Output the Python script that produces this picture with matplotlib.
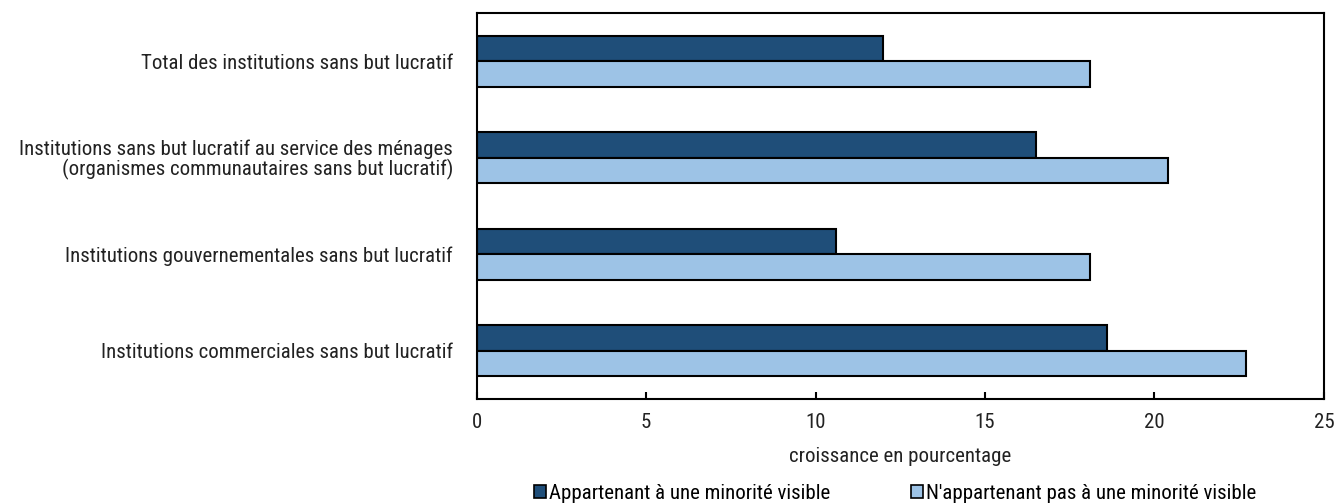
import numpy as np
import matplotlib.pyplot as plt
from matplotlib.patches import Patch

categories = [
    "Total des institutions sans but lucratif",
    "Institutions sans but lucratif au service des ménages\n(organismes communautaires sans but lucratif)",
    "Institutions gouvernementales sans but lucratif",
    "Institutions commerciales sans but lucratif",
]
minorite = [12.0, 16.5, 10.6, 18.6]
non_minorite = [18.1, 20.4, 18.1, 22.7]
series_labels = ["Appartenant à une minorité visible",
                 "N'appartenant pas à une minorité visible"]
dark = '#1F4E79'
light = '#9DC3E6'

plt.rcParams['font.family'] = ['Roboto Condensed', 'DejaVu Sans']

fig = plt.figure(figsize=(13.36, 5.04), dpi=100)
ax = fig.add_axes([0.3567, 0.2083, 0.6343, 0.7659])

y = np.arange(len(categories))
h = 0.264
ax.barh(y - h / 2, minorite, height=h, color=dark, edgecolor='black', linewidth=1.5)
ax.barh(y + h / 2, non_minorite, height=h, color=light, edgecolor='black', linewidth=1.5)

ax.set_xlim(0, 25)
ax.set_ylim(3.5, -0.5)
ax.set_xticks(np.arange(0, 26, 5))
ax.set_yticks(y)
ax.set_yticklabels(categories, fontsize=15, color='#222222', linespacing=1.0)
ax.tick_params(axis='y', length=0, pad=17)
ax.tick_params(axis='x', direction='in', length=5, width=1.5, labelsize=15,
               pad=10, labelcolor='#222222')
for s in ax.spines.values():
    s.set_linewidth(1.5)
    s.set_color('black')
ax.set_xlabel('croissance en pourcentage', fontsize=15, color='#222222', labelpad=11)

handles = [Patch(facecolor=dark, edgecolor='black', linewidth=1.2),
           Patch(facecolor=light, edgecolor='black', linewidth=1.2)]
fig.legend(handles, series_labels, loc='lower center', ncol=2, frameon=False,
           fontsize=15, bbox_to_anchor=(0.670, -0.035), handlelength=0.55,
           handleheight=0.55, handletextpad=0.15, columnspacing=3.9)

fig.savefig('out.png', dpi=100)
